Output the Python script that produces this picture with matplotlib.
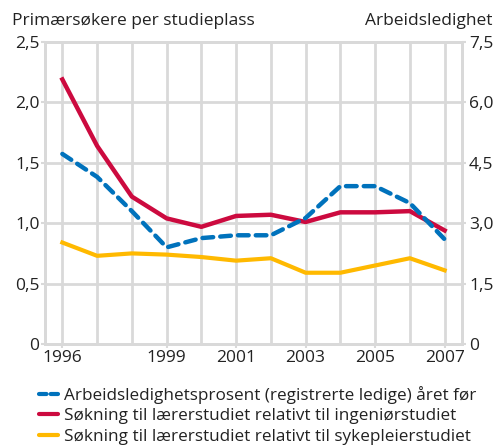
import matplotlib.pyplot as plt
from matplotlib.lines import Line2D

years = [1996, 1997, 1998, 1999, 2000, 2001, 2002, 2003, 2004, 2005, 2006, 2007]
ledighet = [4.72, 4.15, 3.3, 2.4, 2.63, 2.7, 2.7, 3.13, 3.92, 3.92, 3.5, 2.6]
ingenior = [2.19, 1.64, 1.22, 1.04, 0.97, 1.06, 1.07, 1.01, 1.09, 1.09, 1.10, 0.94]
sykepleier = [0.84, 0.73, 0.75, 0.74, 0.72, 0.69, 0.71, 0.59, 0.59, 0.65, 0.71, 0.61]

labels = ['Arbeidsledighetsprosent (registrerte ledige) året før',
          'Søkning til lærerstudiet relativt til ingeniørstudiet',
          'Søkning til lærerstudiet relativt til sykepleierstudiet']
xticks = [1996, 1999, 2001, 2003, 2005, 2007]
left_ticks = [0, 0.5, 1.0, 1.5, 2.0, 2.5]
right_ticks = [0, 1.5, 3.0, 4.5, 6.0, 7.5]

BLUE = '#0072bc'
RED = '#cc0a3f'
YELLOW = '#ffb900'
GRID = '#d9d9d9'
TXT = '#222222'

plt.rcParams['font.family'] = ['Open Sans', 'DejaVu Sans']
plt.rcParams['font.size'] = 12.5

fig = plt.figure(figsize=(4.97, 4.48), dpi=100)
ax = fig.add_axes([0.0905, 0.2321, 0.8391, 0.6742])
ax2 = ax.twinx()

ax.set_xlim(1995.5, 2007.5)
ax.set_ylim(0, 2.5)
ax2.set_ylim(0, 7.5)

ax.set_xticks(years, minor=True)
ax.set_xticks(xticks)
ax.set_xticklabels([str(y) for y in xticks], color=TXT)
ax.set_yticks(left_ticks)
ax.set_yticklabels(['0' if v == 0 else f'{v:.1f}'.replace('.', ',') for v in left_ticks], color=TXT)
ax2.set_yticks(right_ticks)
ax2.set_yticklabels(['0' if v == 0 else f'{v:.1f}'.replace('.', ',') for v in right_ticks], color=TXT)

ax.grid(True, which='both', axis='x', color=GRID, lw=2)
ax.grid(True, which='major', axis='y', color=GRID, lw=2)
ax.set_axisbelow(True)
for a in (ax, ax2):
    for s in a.spines.values():
        s.set_color(GRID)
        s.set_linewidth(2)
ax.tick_params(which='both', length=3, color=GRID, width=1.5, pad=1)
ax.tick_params(axis='x', which='minor', length=0)
ax2.tick_params(length=3, color=GRID, width=1.5, pad=2)

ax.plot(years, sykepleier, color=YELLOW, lw=3, solid_joinstyle='round', zorder=3)
ax.plot(years, ingenior, color=RED, lw=3.2, solid_joinstyle='round', zorder=4)
ax2.plot(years, ledighet, color=BLUE, lw=3.2, linestyle=(0, (2.4, 1.6)),
         dash_capstyle='round', zorder=5)

fig.text(0.024, 0.945, 'Primærsøkere per studieplass', color=TXT, ha='left', va='baseline')
fig.text(0.99, 0.945, 'Arbeidsledighet', color=TXT, ha='right', va='baseline')

handles = [Line2D([], [], color=BLUE, lw=3, linestyle=(0, (1.8, 1.0)), dash_capstyle='round'),
           Line2D([], [], color=RED, lw=3, solid_capstyle='round'),
           Line2D([], [], color=YELLOW, lw=3, solid_capstyle='round')]
fig.legend(handles, labels, loc='upper left', bbox_to_anchor=(0.078, 0.138),
           frameon=False, handlelength=1.15, handletextpad=0.35, labelspacing=0.25,
           borderaxespad=0, borderpad=0, labelcolor=TXT, fontsize=12.3)

fig.savefig('out.png', dpi=100)
